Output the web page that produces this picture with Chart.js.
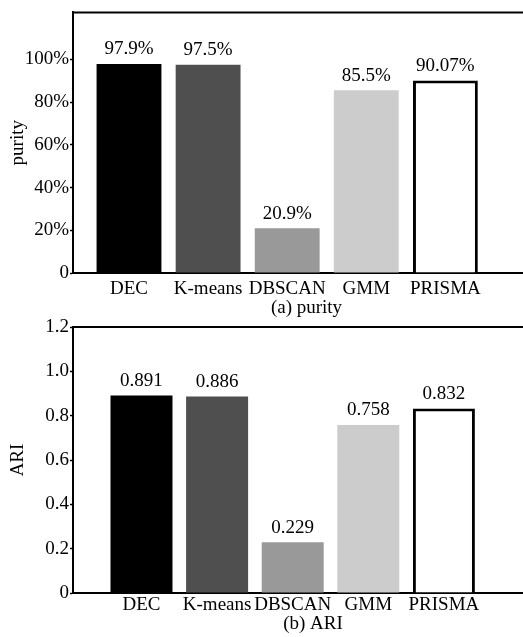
<!DOCTYPE html>
<html>
<head>
<meta charset="utf-8">
<script src="https://cdn.jsdelivr.net/npm/chart.js@4/dist/chart.umd.min.js"></script>
<style>
  html, body { margin: 0; padding: 0; background: #fff; overflow: hidden; width: 523px; height: 637px; }
  .panel { position: absolute; left: 0; }
  #p1 { top: 0; }
  #p2 { top: 310px; }
</style>
</head>
<body>
<div class="panel" id="p1"><canvas id="purityChart" width="540" height="320"></canvas></div>
<div class="panel" id="p2"><canvas id="ariChart" width="553" height="327"></canvas></div>
<script>
const methods = ["DEC", "K-means", "DBSCAN", "GMM", "PRISMA"];
const purity = [97.9, 97.5, 20.9, 85.5, 90.07];
const ari = [0.891, 0.886, 0.229, 0.758, 0.832];
const purityTicks = [0, 20, 40, 60, 80, 100];
const ariTicks = [0, 0.2, 0.4, 0.6, 0.8, 1.0, 1.2];

const barColors = ["#000000", "#4f4f4f", "#999999", "#cccccc", "#ffffff"];
const barBorders = [0, 0, 0, 0, 3];
const serif = "'Liberation Serif', 'Times New Roman', serif";

// value text above every bar
const valueLabels = {
  id: "valueLabels",
  afterDatasetsDraw(chart, args, opts) {
    const ctx = chart.ctx;
    const meta = chart.getDatasetMeta(0);
    ctx.save();
    ctx.font = "19px " + serif;
    ctx.fillStyle = "#000";
    ctx.textAlign = "center";
    ctx.textBaseline = "bottom";
    meta.data.forEach((bar, i) => {
      const v = chart.data.datasets[0].data[i].y;
      ctx.fillText(opts.format(v), bar.x, bar.y - 5);
    });
    ctx.restore();
  }
};

// top edge of the frame
const frameTop = {
  id: "frameTop",
  afterDraw(chart) {
    const {ctx, chartArea} = chart;
    ctx.save();
    ctx.strokeStyle = "#000";
    ctx.lineWidth = 2;
    ctx.beginPath();
    ctx.moveTo(chartArea.left - 1, chartArea.top);
    ctx.lineTo(chartArea.right, chartArea.top);
    ctx.stroke();
    ctx.restore();
  }
};

const makeChart = (id, values, cfg) => {
  return new Chart(document.getElementById(id), {
    type: "bar",
    data: {
      datasets: [{
        data: values.map((v, i) => ({x: i, y: v})),
        backgroundColor: barColors,
        borderColor: "#000",
        borderWidth: barBorders,
        borderSkipped: "bottom",
        barPercentage: 0.82,
        categoryPercentage: 1.0
      }]
    },
    options: {
      responsive: false,
      animation: false,
      layout: {padding: {top: cfg.padTop, left: 0, right: 0, bottom: 0}},
      plugins: {
        legend: {display: false},
        tooltip: {enabled: false},
        valueLabels: {format: cfg.fmt}
      },
      scales: {
        x: {
          type: "linear",
          offset: false,
          min: cfg.xMin,
          max: cfg.xMax,
          afterBuildTicks: s => { s.ticks = methods.map((m, i) => ({value: i})); },
          afterFit: s => { s.height = cfg.xHeight; },
          ticks: {
            callback: v => methods[v],
            color: "#000",
            font: {family: serif, size: 19},
            padding: cfg.xPad,
            maxRotation: 0,
            autoSkip: false
          },
          grid: {drawOnChartArea: false, drawTicks: false},
          border: {display: true, color: "#000", width: 2},
          title: {
            display: true,
            text: cfg.caption,
            color: "#000",
            font: {family: serif, size: 19},
            padding: {top: 0, bottom: cfg.capPad}
          }
        },
        y: {
          min: 0,
          max: cfg.yMax,
          afterBuildTicks: s => { s.ticks = cfg.yTicks.map(v => ({value: v})); },
          afterFit: s => { s.width = 73; },
          ticks: {
            callback: cfg.tickFmt,
            color: "#000",
            font: {family: serif, size: 19},
            padding: 1
          },
          grid: {drawOnChartArea: false, drawTicks: true, tickLength: 3, tickColor: "#000", tickWidth: 1.5},
          border: {display: true, color: "#000", width: 2},
          title: {
            display: true,
            text: cfg.yTitle,
            color: "#000",
            font: {family: serif, size: 19},
            padding: {top: 7, bottom: 0}
          }
        }
      }
    },
    plugins: [valueLabels, frameTop]
  });
};

makeChart("purityChart", purity, {
  padTop: 7,
  xMin: -0.708, xMax: 5.196,
  xHeight: 47, xPad: 5, capPad: 1,
  caption: "(a) purity",
  yMax: 122, yTicks: purityTicks,
  tickFmt: v => v === 0 ? "0" : v + "%",
  yTitle: "purity",
  fmt: v => v + "%"
});

makeChart("ariChart", ari, {
  padTop: 17,
  xMin: -0.906, xMax: 5.443,
  xHeight: 44, xPad: 1, capPad: 2,
  caption: "(b) ARI",
  yMax: 1.2, yTicks: ariTicks,
  tickFmt: v => v === 0 ? "0" : v.toFixed(1),
  yTitle: "ARI",
  fmt: v => v.toFixed(3)
});
</script>
</body>
</html>
